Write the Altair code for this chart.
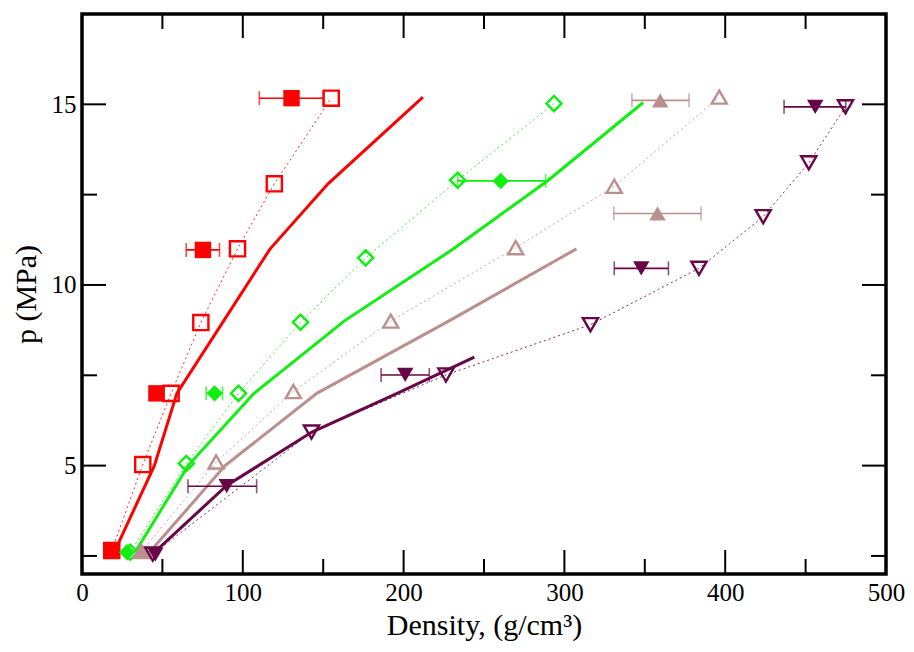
import altair as alt
import pandas as pd

# ---- series metadata ----
series_names = ["A", "B", "C", "D"]
series_colors = ["#ff0000", "#11ee11", "#bc8f8f", "#670748"]
series_shapes = ["square", "diamond", "triangle-up", "triangle-down"]

# ---- solid (model) lines ----
line_A_x = [20, 45, 59, 88, 117, 153, 212]
line_A_y = [2.6, 5.0, 7.0, 9.0, 11.0, 12.8, 15.2]
line_B_x = [33, 66, 107, 163, 231, 290, 349]
line_B_y = [2.6, 5.0, 7.0, 9.0, 11.0, 12.9, 15.05]
line_C_x = [42, 89, 146, 228, 307.5]
line_C_y = [2.6, 5.0, 7.0, 9.0, 11.0]
line_D_x = [45, 90, 143, 196, 244]
line_D_y = [2.6, 4.45, 5.93, 7.0, 8.0]

# ---- open symbols joined by dotted lines ----
open_A_x = [18.5, 37.8, 55.4, 73.9, 96.7, 119.6, 155.0]
open_A_y = [2.65, 5.03, 7.0, 8.96, 11.0, 12.8, 15.17]
open_B_x = [30.0, 64.9, 97.3, 135.9, 176.4, 233.6, 293.5]
open_B_y = [2.6, 5.06, 7.0, 8.97, 10.75, 12.9, 15.02]
open_C_x = [37.0, 83.4, 131.4, 192.0, 269.7, 331.0, 396.3]
open_C_y = [2.62, 5.1, 7.05, 9.0, 11.03, 12.73, 15.2]
open_D_x = [44.0, 142.7, 226.3, 316.2, 383.7, 423.6, 452.0, 474.8]
open_D_y = [2.55, 5.93, 7.51, 8.9, 10.46, 11.89, 13.38, 14.93]

# ---- filled symbols with horizontal error bars ----
fill_A_x = [18.2, 46.3, 75.2, 130.3]
fill_A_y = [2.66, 7.0, 10.97, 15.17]
fill_A_lo = [18.2, 43.0, 64.8, 110.3]
fill_A_hi = [18.2, 50.0, 85.5, 150.0]
fill_B_x = [28.0, 82.5, 260.4]
fill_B_y = [2.6, 7.0, 12.88]
fill_B_lo = [28.0, 77.2, 233.6]
fill_B_hi = [28.0, 87.4, 288.3]
fill_C_x = [36.3, 357.9, 359.6]
fill_C_y = [2.62, 11.98, 15.11]
fill_C_lo = [36.3, 330.7, 342.0]
fill_C_hi = [36.3, 385.0, 377.5]
fill_D_x = [45.6, 90.0, 201.0, 347.8, 456.0]
fill_D_y = [2.54, 4.43, 7.51, 10.46, 14.93]
fill_D_lo = [45.6, 65.9, 186.0, 331.0, 436.6]
fill_D_hi = [45.6, 108.6, 216.0, 364.7, 475.0]

# ---- axis ticks ----
x_major = [0, 100, 200, 300, 400, 500]
x_minor = [50, 150, 250, 350, 450]
y_major = [5, 10, 15]
y_minor = [2.5, 7.5, 12.5]
x_domain = [0, 500]
y_domain = [2, 17.5]

W, H = 804, 560
FONT = "Times New Roman"

def build(name, xs, ys):
    return pd.DataFrame({"series": name, "x": xs, "y": ys, "order": range(len(xs))})

lines_df = pd.concat([
    build("A", line_A_x, line_A_y), build("B", line_B_x, line_B_y),
    build("C", line_C_x, line_C_y), build("D", line_D_x, line_D_y)])
open_df = pd.concat([
    build("A", open_A_x, open_A_y), build("B", open_B_x, open_B_y),
    build("C", open_C_x, open_C_y), build("D", open_D_x, open_D_y)])

def build_f(name, xs, ys, lo, hi):
    return pd.DataFrame({"series": name, "x": xs, "y": ys, "lo": lo, "hi": hi})

fill_df = pd.concat([
    build_f("A", fill_A_x, fill_A_y, fill_A_lo, fill_A_hi),
    build_f("B", fill_B_x, fill_B_y, fill_B_lo, fill_B_hi),
    build_f("C", fill_C_x, fill_C_y, fill_C_lo, fill_C_hi),
    build_f("D", fill_D_x, fill_D_y, fill_D_lo, fill_D_hi)])
err_df = fill_df[fill_df["lo"] != fill_df["hi"]]

xs = alt.Scale(domain=x_domain, nice=False, zero=False)
ys = alt.Scale(domain=y_domain, nice=False, zero=False)
color = alt.Color("series:N", scale=alt.Scale(domain=series_names, range=series_colors), legend=None)
shape = alt.Shape("series:N", scale=alt.Scale(domain=series_names, range=series_shapes), legend=None)

X = alt.X("x:Q", scale=xs, axis=alt.Axis(values=x_major, title="Density, (g/cm³)",
                                         labelFont=FONT, titleFont=FONT, titlePadding=5))
Y = alt.Y("y:Q", scale=ys, axis=alt.Axis(values=y_major, title="p (MPa)",
                                         labelFont=FONT, titleFont=FONT, titlePadding=10))

solid = alt.Chart(lines_df).mark_line(strokeWidth=3).encode(x=X, y=Y, color=color, order="order:Q")
dotted = alt.Chart(open_df).mark_line(strokeWidth=1, strokeDash=[2, 3], opacity=0.85).encode(
    x=alt.X("x:Q", scale=xs), y=alt.Y("y:Q", scale=ys), color=color, order="order:Q")
err = alt.Chart(err_df).mark_rule(strokeWidth=1.6).encode(
    x=alt.X("lo:Q", scale=xs), x2="hi:Q", y=alt.Y("y:Q", scale=ys), color=color)
cap_lo = alt.Chart(err_df).mark_tick(orient="vertical", size=14, thickness=1.6).encode(
    x=alt.X("lo:Q", scale=xs), y=alt.Y("y:Q", scale=ys), color=color)
cap_hi = alt.Chart(err_df).mark_tick(orient="vertical", size=14, thickness=1.6).encode(
    x=alt.X("hi:Q", scale=xs), y=alt.Y("y:Q", scale=ys), color=color)
opens = alt.Chart(open_df).mark_point(filled=False, strokeWidth=2.4, size=230, opacity=1).encode(
    x=alt.X("x:Q", scale=xs), y=alt.Y("y:Q", scale=ys), color=color, shape=shape)
fills = alt.Chart(fill_df).mark_point(filled=True, size=270, opacity=1).encode(
    x=alt.X("x:Q", scale=xs), y=alt.Y("y:Q", scale=ys), color=color, shape=shape)

def xticks(vals, length):
    d = pd.DataFrame({"v": vals})
    b = alt.Chart(d).mark_rule(color="black", strokeWidth=2).encode(
        x=alt.X("v:Q", scale=xs), y=alt.value(H), y2=alt.value(H - length))
    t = alt.Chart(d).mark_rule(color="black", strokeWidth=2).encode(
        x=alt.X("v:Q", scale=xs), y=alt.value(0), y2=alt.value(length))
    return [b, t]

def yticks(vals, length):
    d = pd.DataFrame({"v": vals})
    l = alt.Chart(d).mark_rule(color="black", strokeWidth=2).encode(
        y=alt.Y("v:Q", scale=ys), x=alt.value(0), x2=alt.value(length))
    r = alt.Chart(d).mark_rule(color="black", strokeWidth=2).encode(
        y=alt.Y("v:Q", scale=ys), x=alt.value(W), x2=alt.value(W - length))
    return [l, r]

tick_layers = xticks(x_major, 24) + xticks(x_minor, 15) + yticks(y_major, 24) + yticks(y_minor, 15)

chart = alt.layer(solid, dotted, err, cap_lo, cap_hi, opens, fills, *tick_layers).properties(
    width=W, height=H, autosize="none",
    padding={"left": 74, "top": 6, "right": 20, "bottom": 70},
).configure(font=FONT).configure_view(stroke="black", strokeWidth=3.5).configure_axis(
    grid=False, ticks=False, domain=False,
    labelFontSize=25, labelColor="black", labelPadding=6,
    labelFlush=False, labelOverlap=False, labelBound=False,
    titleFontSize=30, titleFontWeight="normal", titleColor="black",
)

chart.save("out.html", embed_options={"renderer": "svg", "actions": False})
